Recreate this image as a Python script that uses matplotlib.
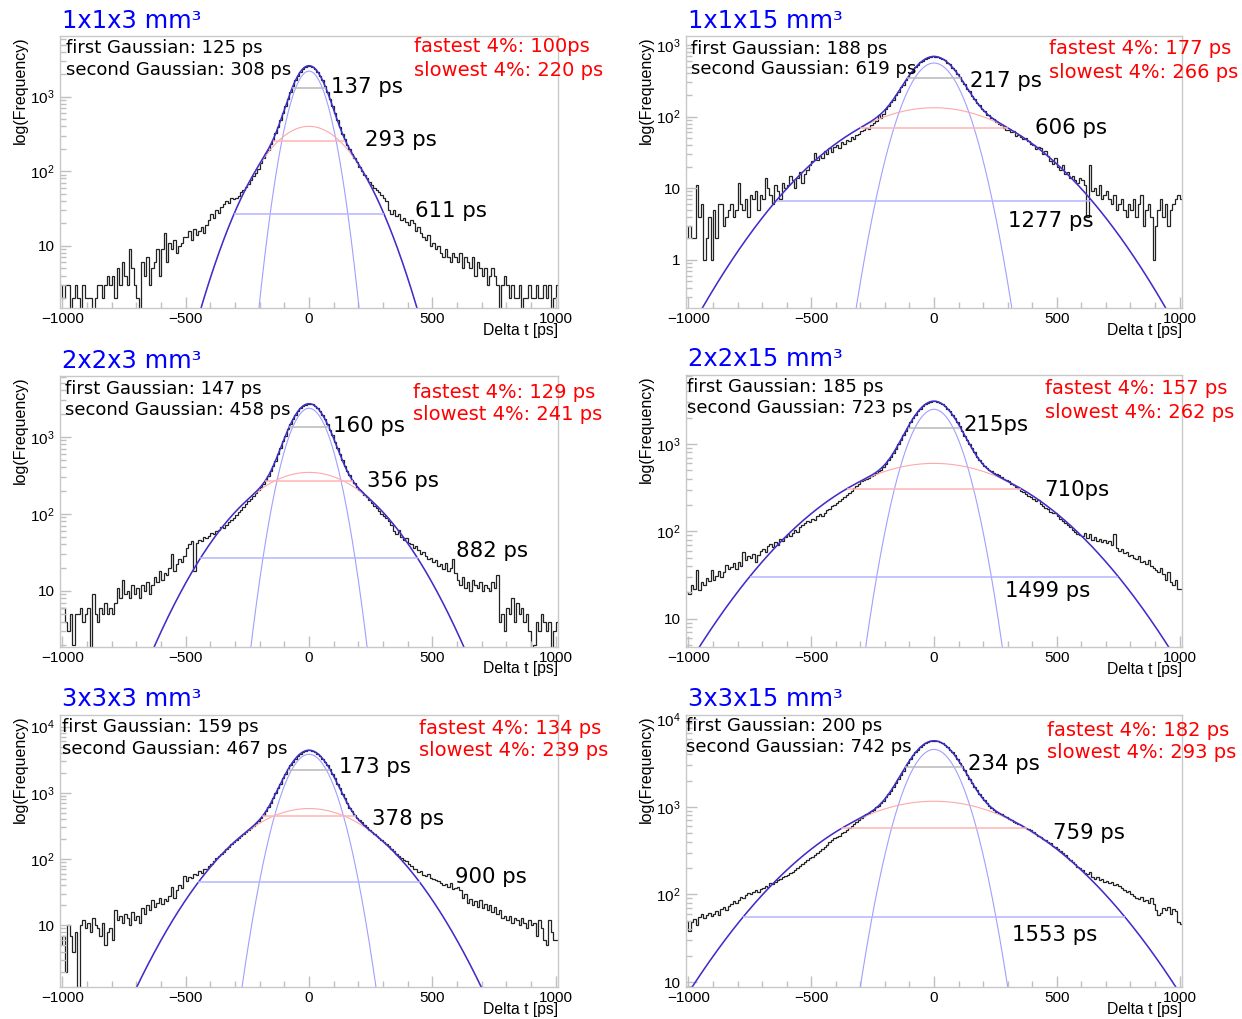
import numpy as np
import matplotlib
matplotlib.use('Agg')
import matplotlib.pyplot as plt
from matplotlib.ticker import LogLocator, FuncFormatter, MultipleLocator, NullFormatter

plt.rcParams['mathtext.fontset'] = 'custom'
plt.rcParams['mathtext.rm'] = 'Liberation Sans'
plt.rcParams['mathtext.it'] = 'Liberation Sans:italic'

# ---- data ----
titles = ['1x1x3 mm³', '1x1x15 mm³', '2x2x3 mm³', '2x2x15 mm³', '3x3x3 mm³', '3x3x15 mm³']
first_fwhm = [125, 188, 147, 185, 159, 200]
second_fwhm = [308, 619, 458, 723, 467, 742]
fastest = ['100ps', '177 ps', '129 ps', '157 ps', '134 ps', '182 ps']
slowest = ['220 ps', '266 ps', '241 ps', '262 ps', '239 ps', '293 ps']

# fit amplitudes (first and second gaussian)
amp_first = [2200, 560, 2340, 2500, 3830, 4530]
amp_second = [400, 133, 345, 600, 580, 1160]

# widths drawn as horizontal lines: top (gray), middle (red), low (blue)
width_top = [137, 217, 160, 215, 173, 234]
width_mid = [293, 606, 356, 710, 378, 759]
width_low = [611, 1277, 882, 1499, 900, 1553]
level_top = [1320, 343, 1322, 1513, 2250, 2820]
level_mid = [257, 68.7, 268, 305, 444, 570]
level_low = [26.5, 6.65, 27.1, 30.1, 44.7, 55.2]
label_top = ['137 ps', '217 ps', '160 ps', '215ps', '173 ps', '234 ps']
label_mid = ['293 ps', '606 ps', '356 ps', '710ps', '378 ps', '759 ps']
label_low = ['611 ps', '1277 ps', '882 ps', '1499 ps', '900 ps', '1553 ps']

# histogram counts, 10 ps bins from -1010 to 1010
h1 = [3,
      2, 3, 3, 0, 2, 3, 2, 0, 3, 2,
      2, 2, 0, 2, 3, 3, 2, 3, 4, 3,
      4, 2, 5, 3, 6, 4, 3, 9, 5, 3,
      2, 0, 6, 4, 7, 3, 5, 6, 9, 4,
      9, 15, 6, 11, 9, 12, 8, 10, 11, 13,
      13, 16, 12, 17, 14, 16, 18, 15, 19, 22,
      27, 24, 30, 28, 33, 36, 40, 38, 44, 42,
      44, 47, 52, 56, 62, 68, 76, 86, 96, 108,
      130, 150, 176, 195, 232, 265, 325, 388, 490, 596,
      748, 940, 1148, 1400, 1648, 1920, 2150, 2370, 2505, 2600,
      2580, 2515, 2350, 2160, 1905, 1660, 1385, 1160, 930, 755,
      600, 480, 395, 318, 272, 226, 200, 170, 150, 132,
      115, 102, 90, 80, 72, 66, 60, 56, 52, 48,
      44, 40, 30, 27, 30, 25, 27, 22, 24, 21,
      19, 22, 20, 16, 18, 15, 13, 12, 14, 10,
      11, 9, 10, 8, 7, 9, 7, 6, 8, 7,
      6, 8, 5, 7, 6, 5, 7, 4, 6, 5,
      4, 5, 3, 4, 5, 4, 3, 0, 3, 4,
      3, 2, 3, 2, 2, 3, 0, 2, 2, 3,
      2, 2, 3, 2, 2, 3, 2, 3, 0, 2,
      3]

h2 = [2,
      3, 2, 2, 11, 4, 6, 1, 2, 4, 1,
      5, 2, 6, 6, 3, 4, 5, 6, 4, 5,
      12, 6, 5, 7, 4, 8, 7, 9, 5, 8,
      7, 14, 10, 8, 6, 11, 9, 7, 12, 10,
      11, 15, 13, 10, 14, 17, 12, 16, 18, 21,
      24, 31, 25, 28, 26, 33, 30, 36, 32, 38,
      40, 36, 44, 42, 47, 45, 52, 48, 55, 58,
      62, 66, 70, 68, 76, 82, 88, 104, 96, 108,
      126, 140, 160, 172, 199, 218, 256, 280, 325, 355,
      405, 440, 492, 528, 575, 604, 645, 660, 688, 695,
      690, 680, 668, 636, 612, 566, 535, 482, 448, 396,
      362, 316, 288, 246, 225, 193, 178, 154, 145, 126,
      121, 106, 104, 95, 92, 84, 80, 76, 70, 66,
      64, 60, 62, 54, 56, 52, 48, 50, 45, 42,
      40, 35, 38, 36, 30, 33, 28, 24, 22, 26,
      20, 18, 21, 16, 17, 14, 15, 13, 12, 14,
      13, 11, 4, 21, 9, 10, 8, 11, 7, 8,
      9, 7, 6, 8, 5, 6, 7, 5, 4, 6,
      5, 7, 4, 6, 8, 3, 5, 6, 4, 1,
      3, 5, 7, 4, 6, 3, 5, 6, 7, 8,
      7]

h3 = [6,
      6, 4, 3, 5, 2, 5, 5, 6, 4, 5,
      6, 0, 9, 5, 4, 6, 5, 7, 5, 6,
      5, 7, 11, 8, 14, 9, 10, 8, 12, 9,
      11, 8, 12, 10, 13, 9, 12, 15, 13, 18,
      14, 17, 16, 20, 30, 18, 22, 26, 24, 28,
      36, 40, 44, 18, 42, 46, 44, 50, 48, 52,
      56, 54, 60, 62, 68, 66, 72, 78, 82, 88,
      96, 104, 112, 122, 134, 146, 156, 172, 186, 204,
      225, 246, 278, 310, 356, 418, 490, 598, 712, 868,
      1035, 1245, 1450, 1690, 1915, 2145, 2330, 2510, 2620, 2690,
      2670, 2625, 2495, 2345, 2130, 1925, 1680, 1460, 1235, 1045,
      860, 722, 590, 500, 416, 356, 315, 272, 250, 224,
      206, 192, 178, 166, 150, 140, 128, 118, 108, 100,
      94, 88, 80, 72, 60, 54, 62, 50, 46, 48,
      42, 40, 36, 38, 34, 30, 32, 28, 26, 27,
      24, 25, 21, 22, 19, 23, 18, 20, 26, 17,
      14, 12, 15, 11, 13, 10, 14, 12, 11, 13,
      10, 12, 11, 10, 13, 11, 16, 4, 5, 3,
      6, 5, 8, 4, 7, 5, 6, 4, 5, 3,
      0, 2, 4, 3, 5, 4, 3, 4, 0, 3,
      4]

h4 = [20,
      19, 24, 22, 36, 21, 26, 24, 29, 27, 36,
      28, 31, 35, 30, 34, 41, 37, 39, 43, 37,
      45, 40, 58, 47, 52, 49, 55, 45, 53, 60,
      63, 58, 68, 72, 66, 75, 70, 82, 78, 86,
      92, 88, 96, 104, 99, 112, 118, 124, 132, 128,
      140, 136, 150, 156, 148, 162, 175, 182, 194, 200,
      212, 222, 236, 248, 258, 276, 290, 312, 330, 352,
      372, 386, 400, 412, 430, 445, 462, 488, 508, 540,
      598, 650, 715, 790, 880, 990, 1110, 1255, 1410, 1585,
      1770, 1965, 2160, 2360, 2545, 2710, 2860, 2970, 3060, 3110,
      3100, 3045, 2980, 2850, 2720, 2540, 2370, 2160, 1975, 1770,
      1590, 1420, 1250, 1120, 990, 890, 800, 716, 660, 604,
      566, 532, 508, 486, 462, 448, 436, 420, 402, 390,
      376, 352, 338, 320, 310, 292, 280, 268, 255, 246,
      232, 220, 226, 205, 196, 184, 178, 168, 162, 160,
      150, 138, 132, 126, 118, 112, 104, 98, 94, 90,
      88, 96, 84, 92, 80, 86, 78, 82, 76, 80,
      74, 78, 70, 92, 64, 60, 62, 56, 58, 52,
      54, 50, 48, 52, 44, 46, 42, 47, 40, 38,
      36, 34, 38, 32, 28, 34, 26, 24, 28, 22,
      22]

h5 = [5,
      7, 2, 10, 7, 4, 8, 0, 10, 12, 9,
      11, 8, 13, 10, 9, 7, 11, 5, 8, 9,
      6, 17, 12, 14, 11, 15, 13, 10, 16, 12,
      14, 11, 18, 15, 20, 17, 24, 19, 22, 26,
      21, 25, 23, 28, 38, 26, 34, 40, 36, 56,
      46, 54, 52, 60, 58, 66, 62, 72, 70, 78,
      84, 94, 104, 112, 118, 130, 140, 154, 168, 180,
      194, 210, 224, 240, 258, 276, 296, 320, 348, 380,
      418, 468, 530, 605, 700, 826, 980, 1170, 1385, 1650,
      1935, 2265, 2610, 2960, 3300, 3640, 3915, 4150, 4320, 4410,
      4400, 4325, 4140, 3925, 3625, 3300, 2965, 2600, 2270, 1930,
      1650, 1380, 1172, 975, 830, 705, 600, 530, 468, 420,
      392, 360, 330, 300, 276, 258, 240, 224, 210, 196,
      180, 170, 156, 142, 134, 120, 112, 104, 98, 92,
      84, 80, 72, 70, 64, 66, 58, 56, 60, 52,
      50, 48, 46, 44, 40, 42, 38, 43, 35, 36,
      38, 34, 26, 30, 22, 25, 20, 23, 19, 24,
      18, 21, 17, 20, 16, 19, 15, 17, 13, 14,
      12, 14, 11, 13, 12, 10, 13, 11, 9, 12,
      10, 11, 7, 12, 9, 6, 5, 12, 8, 6,
      6]

h6 = [50,
      38, 48, 52, 45, 55, 60, 54, 58, 62, 56,
      60, 64, 58, 68, 72, 66, 74, 78, 84, 80,
      86, 94, 90, 99, 104, 100, 108, 112, 106, 116,
      118, 126, 122, 134, 130, 140, 146, 152, 158, 164,
      168, 176, 182, 190, 200, 212, 224, 236, 248, 260,
      270, 282, 300, 316, 334, 352, 370, 392, 414, 436,
      452, 470, 498, 520, 548, 570, 600, 636, 668, 712,
      742, 780, 822, 845, 890, 920, 985, 1030, 1110, 1180,
      1285, 1400, 1530, 1705, 1880, 2100, 2340, 2600, 2900, 3210,
      3530, 3870, 4190, 4520, 4810, 5080, 5320, 5490, 5630, 5690,
      5680, 5610, 5500, 5300, 5090, 4810, 4520, 4190, 3870, 3530,
      3200, 2900, 2610, 2330, 2100, 1880, 1700, 1540, 1395, 1280,
      1190, 1100, 1030, 975, 930, 880, 845, 820, 790, 760,
      730, 705, 680, 660, 635, 615, 596, 575, 556, 540,
      520, 495, 470, 452, 430, 418, 400, 385, 362, 350,
      328, 316, 296, 280, 262, 250, 232, 222, 208, 198,
      188, 178, 172, 180, 160, 152, 158, 146, 150, 140,
      142, 134, 138, 128, 132, 124, 118, 112, 106, 110,
      100, 96, 92, 88, 94, 84, 86, 80, 90, 78,
      66, 58, 62, 70, 66, 72, 60, 68, 64, 48,
      46]

hists = [h1, h2, h3, h4, h5, h6]

# ---- layout (pixels of the 1242x1019 picture) ----
W, H = 1242, 1019
frames = [(60, 36, 558, 308), (686, 36, 1182, 308),
          (60, 376, 558, 647), (686, 375, 1182, 647),
          (60, 715, 558, 987), (686, 715, 1182, 987)]
ylims = [(1.47, 6500), (0.212, 1336), (1.87, 6140), (4.72, 6180), (1.17, 15000), (8.77, 11200)]
text_dx = [6, 5, 5, 1, 2, 0]
text_dy = [(12, 34), (13, 33), (13, 34), (12, 33), (12, 34), (11, 32)]
red_dx = [354, 363, 353, 359, 359, 361]
red_dy = [(11, 34), (13, 36), (16, 38), (14, 37), (13, 36), (15, 38)]
pos_top = [(89, 1360), (146, 310), (97, 1375), (121, 1650), (121, 2440), (138, 3080)]
pos_mid = [(226, 263), (410, 70), (234, 268), (450, 296), (254, 410), (486, 508)]
pos_low = [(428, 29), (300, 3.5), (595, 33), (291, 20.7), (593, 53), (316, 34)]

edges = np.arange(-1010, 1011, 10)
xs = np.linspace(-1010, 1010, 1500)


def ytick_fmt(v, pos):
    if v == 1:
        return '1'
    if v == 10:
        return '10'
    return r'$\mathregular{10^{%d}}$' % int(round(np.log10(v)))


fig = plt.figure(figsize=(W / 100, H / 100), dpi=100)

for i in range(6):
    l, t, r, b = frames[i]
    ax = fig.add_axes([l / W, 1 - b / H, (r - l) / W, (b - t) / H])
    ax.set_yscale('log')

    ax.stairs(hists[i], edges, color='#222222', lw=0.9, baseline=None)

    s1 = first_fwhm[i] / 2.3548
    s2 = second_fwhm[i] / 2.3548
    g1 = amp_first[i] * np.exp(-xs ** 2 / (2 * s1 ** 2))
    g2 = amp_second[i] * np.exp(-xs ** 2 / (2 * s2 ** 2))
    ax.plot(xs, g1, color='#a0a0ff', lw=0.8)
    ax.plot(xs, g2, color='#ffa8a8', lw=0.8)
    ax.plot(xs, g1 + g2, color='#3a2fd0', lw=1.1)

    ax.hlines(level_top[i], -width_top[i] / 2, width_top[i] / 2, color='#b8b8b8', lw=1.1)
    ax.hlines(level_mid[i], -width_mid[i] / 2, width_mid[i] / 2, color='#ffb4b4', lw=1.1)
    ax.hlines(level_low[i], -width_low[i] / 2, width_low[i] / 2, color='#b4b4ff', lw=1.1)

    ax.text(pos_top[i][0], pos_top[i][1], label_top[i], fontsize=15.3, va='center', ha='left')
    ax.text(pos_mid[i][0], pos_mid[i][1], label_mid[i], fontsize=15.3, va='center', ha='left')
    ax.text(pos_low[i][0], pos_low[i][1], label_low[i], fontsize=15.3, va='center', ha='left')

    ax.set_xlim(-1010, 1010)
    ax.set_ylim(*ylims[i])

    for sp in ax.spines.values():
        sp.set_color('#c8c8c8')
        sp.set_linewidth(1)
    ax.xaxis.set_major_locator(MultipleLocator(500))
    ax.xaxis.set_minor_locator(MultipleLocator(100))
    ax.yaxis.set_major_locator(LogLocator(base=10))
    ax.yaxis.set_minor_locator(LogLocator(base=10, subs=np.arange(2, 10)))
    ax.yaxis.set_major_formatter(FuncFormatter(ytick_fmt))
    ax.yaxis.set_minor_formatter(NullFormatter())
    ax.tick_params(which='both', direction='in', color='#c0c0c0', top=False, right=False,
                   labelsize=11, labelfontfamily='Liberation Sans')
    ax.tick_params(which='major', length=8, width=1)
    ax.tick_params(which='minor', length=4, width=1)
    ax.tick_params(axis='x', pad=3)
    ax.tick_params(axis='y', pad=4)

    ax.text(-0.079, 1.0, 'log(Frequency)', rotation=90, ha='center', va='top',
            transform=ax.transAxes, fontsize=11.5, family='Liberation Sans')
    ax.text(1.0, -0.081, 'Delta t [ps]', ha='right', va='center',
            transform=ax.transAxes, fontsize=11.3, family='Liberation Sans')

    fig.text((l + 2) / W, 1 - (t - 15.5) / H, titles[i], color='blue', fontsize=17.5,
             ha='left', va='center')
    fig.text((l + text_dx[i]) / W, 1 - (t + text_dy[i][0]) / H,
             'first Gaussian: %d ps' % first_fwhm[i], fontsize=13, ha='left', va='center')
    fig.text((l + text_dx[i]) / W, 1 - (t + text_dy[i][1]) / H,
             'second Gaussian: %d ps' % second_fwhm[i], fontsize=13, ha='left', va='center')
    fig.text((l + red_dx[i]) / W, 1 - (t + red_dy[i][0]) / H,
             'fastest 4%: ' + fastest[i], color='red', fontsize=14, ha='left', va='center')
    fig.text((l + red_dx[i]) / W, 1 - (t + red_dy[i][1]) / H,
             'slowest 4%: ' + slowest[i], color='red', fontsize=14, ha='left', va='center')

fig.savefig('out.png', dpi=100)
